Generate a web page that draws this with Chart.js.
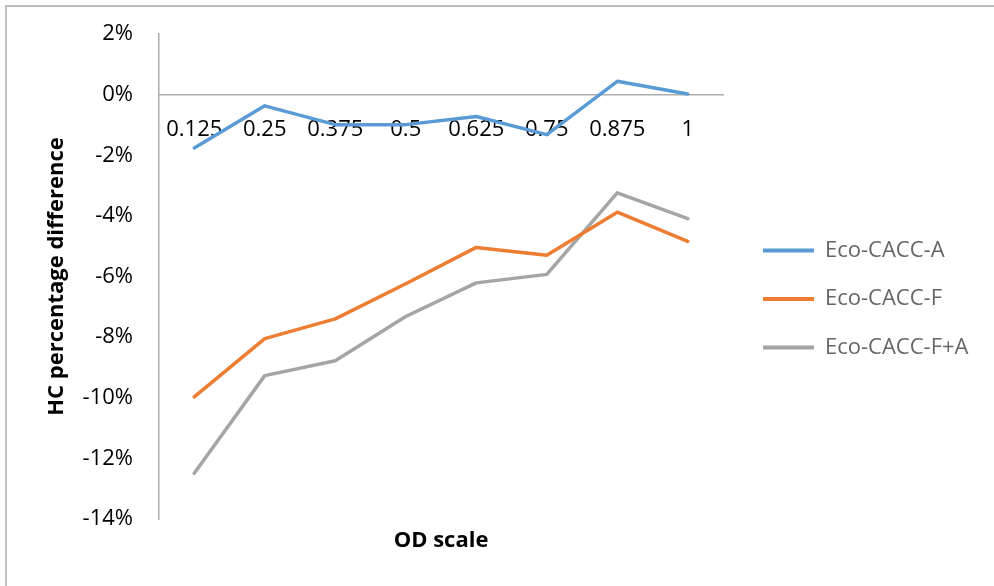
<!DOCTYPE html>
<html>
<head>
<meta charset="utf-8">
<script src="https://cdn.jsdelivr.net/npm/chart.js@4.4.1/dist/chart.umd.min.js"></script>
<style>
  html, body { margin: 0; padding: 0; background: #fff; }
  #wrap { position: relative; width: 994px; height: 586px; }
  #frame {
    position: absolute; left: 5px; top: 5px; right: 0; bottom: 0;
    border-top: 2px solid #BFBFBF; border-left: 2px solid #BFBFBF;
  }
  #chart { position: absolute; left: 0; top: 0; }
</style>
</head>
<body>
<div id="wrap">
  <div id="frame"></div>
  <canvas id="chart" width="994" height="586"></canvas>
</div>
<script>
// OD scale steps
const odScale = ['0.125', '0.25', '0.375', '0.5', '0.625', '0.75', '0.875', '1'];

// HC percentage difference, in %
const ecoA  = [-1.76, -0.37, -0.99, -0.99, -0.72, -1.32, 0.44, 0.02];
const ecoF  = [-9.97, -8.05, -7.40, -6.24, -5.04, -5.30, -3.88, -4.84];
const ecoFA = [-12.49, -9.27, -8.78, -7.32, -6.21, -5.93, -3.24, -4.09];

const yTicks = { min: -14, max: 2, step: 2 };

const FONT = "'Open Sans', 'Noto Sans', sans-serif";
const AXIS = '#ADADAD';

const series = [
  { label: 'Eco-CACC-A',   data: ecoA,  color: '#5B9BD5' },
  { label: 'Eco-CACC-F',   data: ecoF,  color: '#ED7D31' },
  { label: 'Eco-CACC-F+A', data: ecoFA, color: '#A5A5A5' },
];

// x-axis title sits at the bottom, away from the zero-crossing axis
const xTitle = {
  id: 'xTitle',
  afterDraw(chart) {
    const { ctx, chartArea } = chart;
    ctx.save();
    ctx.font = 'bold 22px ' + FONT;
    ctx.fillStyle = '#000';
    ctx.textAlign = 'center';
    ctx.textBaseline = 'middle';
    ctx.fillText('OD scale', (chartArea.left + chartArea.right) / 2, 541);
    ctx.restore();
  }
};

new Chart(document.getElementById('chart'), {
  type: 'line',
  data: {
    labels: odScale,
    datasets: series.map(s => ({
      label: s.label,
      data: s.data,
      borderColor: s.color,
      backgroundColor: s.color,
      borderWidth: 3.5,
      borderCapStyle: 'round',
      borderJoinStyle: 'round',
      pointRadius: 0,
      tension: 0,
      yAxisID: 'y',
    })),
  },
  options: {
    responsive: false,
    animation: false,
    devicePixelRatio: 1,
    layout: { padding: { top: 34, bottom: 67, left: 0, right: 15.5 } },
    plugins: {
      tooltip: { enabled: false },
      legend: {
        position: 'right',
        maxWidth: 320,
        title: { display: true, text: '', font: { size: 10 }, padding: 16.5 },
        labels: {
          boxWidth: 51,
          boxHeight: 4,
          padding: 26.5,
          color: '#000',
          font: { family: FONT, size: 22 },
          generateLabels: chart => chart.data.datasets.map((d, i) => ({
            text: d.label,
            fillStyle: d.borderColor,
            strokeStyle: d.borderColor,
            lineWidth: 0,
            hidden: false,
            datasetIndex: i,
          })),
        },
      },
    },
    scales: {
      x: {
        type: 'category',
        position: { y: 0 },
        offset: true,
        grid: { display: false, drawTicks: false },
        border: { display: true, color: AXIS, width: 1.5 },
        ticks: {
          color: '#000',
          font: { family: FONT, size: 22 },
          padding: 22,
          maxRotation: 0,
          autoSkip: false,
        },
      },
      y: {
        type: 'linear',
        position: 'left',
        min: yTicks.min,
        max: yTicks.max,
        grid: { display: false, drawTicks: false },
        border: { display: true, color: AXIS, width: 1.5 },
        ticks: {
          stepSize: yTicks.step,
          color: '#000',
          font: { family: FONT, size: 22 },
          padding: 26,
          callback: v => v + '%',
        },
        title: {
          display: true,
          text: 'HC percentage difference',
          color: '#000',
          font: { family: FONT, size: 22, weight: 'bold' },
          padding: { top: 44, bottom: 0 },
        },
        // fixed axis width; label overhang is covered by the layout padding
        afterFit: s => { s.width = 159; s.paddingTop = 0; s.paddingBottom = 0; },
      },
      // spacer between plot and legend
      gap: {
        type: 'linear',
        position: 'right',
        grid: { display: false, drawTicks: false },
        border: { display: false },
        ticks: { display: false },
        afterFit: s => { s.width = 13.5; },
      },
    },
  },
  plugins: [xTitle],
});
</script>
</body>
</html>
